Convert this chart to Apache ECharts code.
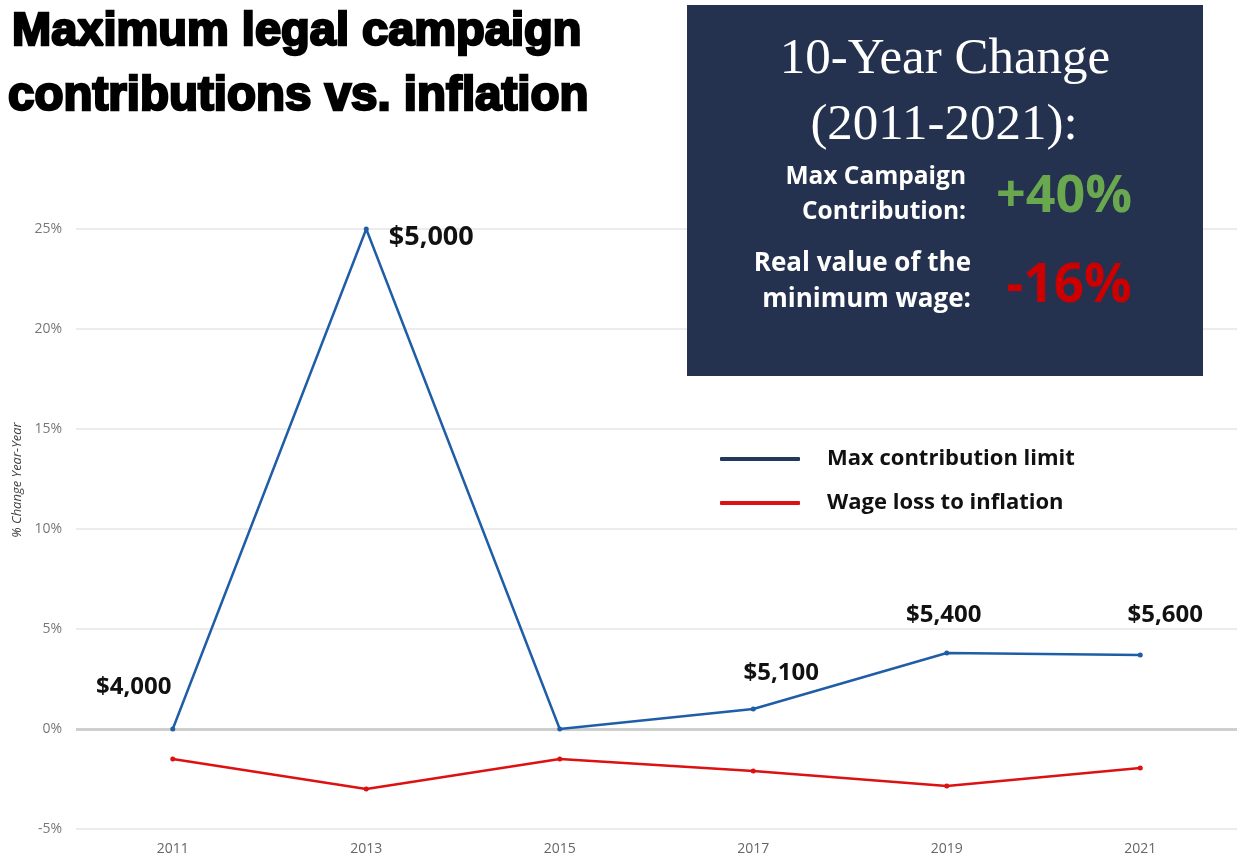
<!DOCTYPE html>
<html>
<head>
<meta charset="utf-8">
<script src="https://cdn.jsdelivr.net/npm/echarts@6/dist/echarts.min.js"></script>
<style>
  html, body { margin: 0; padding: 0; background: #fff; }
  #chart { width: 1237px; height: 857px; }
</style>
</head>
<body>
<div id="chart"></div>
<script>
// data
const years = ['2011', '2013', '2015', '2017', '2019', '2021'];
const contributionChange = [0, 25, 0, 1.0, 3.8, 3.7];          // % change year-year
const wageLoss = [-1.5, -3.0, -1.5, -2.1, -2.85, -1.95];      // % change year-year
const contributionLimits = ['$4,000', '$5,000', null, '$5,100', '$5,400', '$5,600'];
const yMin = -5, yMax = 25, yStep = 5;

// where each dollar label sits relative to its point, and its size
const labelOffsets = [[-39, -42], [65, 8], null, [28, -36], [-3, -38], [25, -40]];
const labelSizes = [24, 27, 0, 24, 24, 24];

const chart = echarts.init(document.getElementById('chart'));

const blueData = contributionChange.map((v, i) => ({
  value: v,
  label: contributionLimits[i]
    ? { show: true, formatter: contributionLimits[i], offset: labelOffsets[i], fontSize: labelSizes[i] }
    : { show: false }
}));

const option = {
  backgroundColor: '#fff',
  animation: false,
  grid: { left: 76, right: 0, top: 229, bottom: 28, containLabel: false },
  legend: {
    orient: 'vertical',
    left: 715,
    top: 443,
    itemWidth: 80,
    itemHeight: 4,
    itemGap: 22,
    icon: 'roundRect',
    textStyle: {
      fontFamily: 'Open Sans', fontWeight: 'bold', fontSize: 22, color: '#111',
      padding: [0, 0, 0, 22]
    },
    data: [
      { name: 'Max contribution limit', itemStyle: { color: '#22395c' } },
      { name: 'Wage loss to inflation', itemStyle: { color: '#dd1111' } }
    ]
  },
  xAxis: {
    type: 'category',
    data: years,
    boundaryGap: true,
    axisLine: { show: false, onZero: false },
    axisTick: { show: false },
    axisLabel: { color: '#666', fontSize: 14, fontFamily: 'Open Sans', margin: 13 }
  },
  yAxis: {
    type: 'value',
    min: yMin,
    max: yMax,
    interval: yStep,
    axisLine: { show: false },
    axisTick: { show: false },
    axisLabel: {
      color: '#777', fontSize: 14, fontFamily: 'Open Sans', margin: 14,
      formatter: v => v + '%'
    },
    splitLine: { lineStyle: { color: '#e6e6e6', width: 1.5 } }
  },
  series: [
    {
      // zero line only, kept under the data lines
      name: 'zero',
      type: 'line',
      data: [],
      z: 1,
      markLine: {
        silent: true,
        z: 1,
        symbol: 'none',
        label: { show: false },
        lineStyle: { color: '#cfcfcf', width: 3, type: 'solid' },
        data: [{ yAxis: 0 }]
      }
    },
    {
      name: 'Max contribution limit',
      type: 'line',
      data: blueData,
      symbol: 'circle',
      symbolSize: 5,
      lineStyle: { color: '#1f5ea6', width: 2.5 },
      itemStyle: { color: '#1f5ea6' },
      label: {
        position: 'inside',
        align: 'center',
        verticalAlign: 'middle',
        fontFamily: 'Open Sans',
        fontWeight: 'bold',
        color: '#111'
      },
      z: 3
    },
    {
      name: 'Wage loss to inflation',
      type: 'line',
      data: wageLoss,
      symbol: 'circle',
      symbolSize: 5,
      lineStyle: { color: '#dd1111', width: 2.5 },
      itemStyle: { color: '#dd1111' },
      z: 3
    }
  ],
  graphic: [
    {
      type: 'text', x: 12, y: 32, z: 100,
      style: {
        text: 'Maximum legal campaign',
        font: 'bold 47px "Liberation Sans", sans-serif',
        fill: '#000', stroke: '#000', lineWidth: 2.5,
        textVerticalAlign: 'middle'
      }
    },
    {
      type: 'text', x: 8, y: 97, z: 100,
      style: {
        text: 'contributions vs. inflation',
        font: 'bold 47.5px "Liberation Sans", sans-serif',
        fill: '#000', stroke: '#000', lineWidth: 2.5,
        textVerticalAlign: 'middle'
      }
    },
    {
      type: 'text', x: 17, y: 480, rotation: Math.PI / 2, z: 100,
      style: {
        text: '% Change Year-Year',
        font: 'italic 13px "Open Sans", sans-serif',
        fill: '#444',
        textAlign: 'center',
        textVerticalAlign: 'middle'
      }
    },
    {
      type: 'rect', z: 100,
      shape: { x: 687, y: 5, width: 516, height: 371 },
      style: { fill: '#25324f' }
    },
    {
      type: 'text', x: 945, y: 60, z: 101,
      style: {
        text: '10-Year Change',
        font: '51px "Liberation Serif", serif',
        fill: '#fff', textAlign: 'center', textVerticalAlign: 'middle'
      }
    },
    {
      type: 'text', x: 944, y: 126, z: 101,
      style: {
        text: '(2011-2021):',
        font: '51px "Liberation Serif", serif',
        fill: '#fff', textAlign: 'center', textVerticalAlign: 'middle'
      }
    },
    {
      type: 'text', x: 966, y: 177, z: 101,
      style: {
        text: 'Max Campaign',
        font: 'bold 24.5px "Open Sans", sans-serif',
        fill: '#fff', textAlign: 'right', textVerticalAlign: 'middle'
      }
    },
    {
      type: 'text', x: 966, y: 212, z: 101,
      style: {
        text: 'Contribution:',
        font: 'bold 24.5px "Open Sans", sans-serif',
        fill: '#fff', textAlign: 'right', textVerticalAlign: 'middle'
      }
    },
    {
      type: 'text', x: 971, y: 264, z: 101,
      style: {
        text: 'Real value of the',
        font: 'bold 26px "Open Sans", sans-serif',
        fill: '#fff', textAlign: 'right', textVerticalAlign: 'middle'
      }
    },
    {
      type: 'text', x: 971, y: 300, z: 101,
      style: {
        text: 'minimum wage:',
        font: 'bold 26px "Open Sans", sans-serif',
        fill: '#fff', textAlign: 'right', textVerticalAlign: 'middle'
      }
    },
    {
      type: 'text', x: 1064, y: 197, z: 101,
      style: {
        text: '+40%',
        font: 'bold 52px "Open Sans", sans-serif',
        fill: '#6aa84f', textAlign: 'center', textVerticalAlign: 'middle'
      }
    },
    {
      type: 'text', x: 1069, y: 287, z: 101,
      style: {
        text: '-16%',
        font: 'bold 53px "Open Sans", sans-serif',
        fill: '#cc0000', textAlign: 'center', textVerticalAlign: 'middle'
      }
    }
  ]
};

chart.setOption(option);
</script>
</body>
</html>
